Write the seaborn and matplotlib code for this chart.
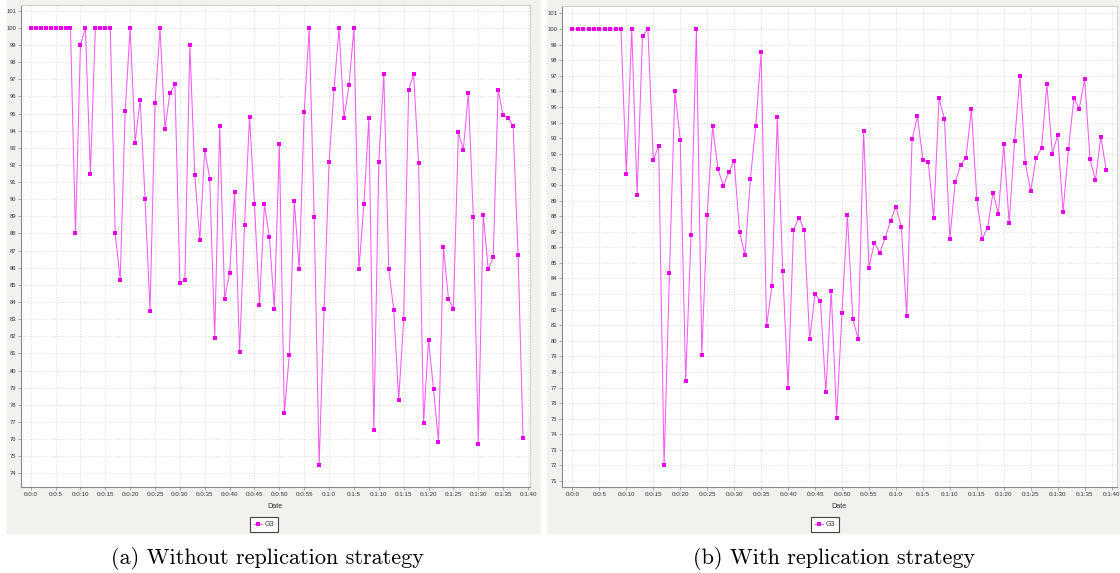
import matplotlib
matplotlib.use("Agg")
import pandas as pd
import seaborn as sns
import matplotlib.pyplot as plt
from matplotlib.patches import Rectangle
from matplotlib.ticker import FuncFormatter, MultipleLocator

W, H = 1120, 573

# one sample per second, 0:0:0 .. 0:1:39
seconds = list(range(100))

without_replication = [
    100, 100, 100, 100, 100, 100, 100, 100, 100, 88.0,
    99.0, 100, 91.5, 100, 100, 100, 100, 88.0, 85.3, 95.15,
    100, 93.3, 95.8, 90.0, 83.5, 95.6, 100, 94.1, 96.2, 96.7,
    85.1, 85.3, 99.0, 91.4, 87.6, 92.9, 91.2, 81.9, 94.3, 84.2,
    85.7, 90.4, 81.1, 88.5, 94.8, 89.7, 83.8, 89.7, 87.8, 83.6,
    93.25, 77.5, 80.9, 89.9, 85.9, 95.1, 100, 88.95, 74.5, 83.6,
    92.2, 96.45, 100, 94.75, 96.65, 100, 85.9, 89.7, 94.75, 76.5,
    92.2, 97.3, 85.9, 83.55, 78.3, 83.0, 96.4, 97.3, 92.1, 76.95,
    81.8, 78.9, 75.85, 87.2, 84.2, 83.6, 93.9, 92.9, 96.2, 88.95,
    75.7, 89.1, 85.9, 86.6, 96.4, 94.9, 94.75, 94.3, 86.75, 76.05,
]

with_replication = [
    100, 100, 100, 100, 100, 100, 100, 100, 100, 100,
    90.7, 100, 89.35, 99.55, 100, 91.6, 92.5, 72.0, 84.35, 96.0,
    92.9, 77.4, 86.8, 100, 79.1, 88.05, 93.8, 91.0, 89.95, 90.8,
    91.55, 87.0, 85.5, 90.35, 93.8, 98.5, 80.95, 83.5, 94.35, 84.5,
    76.95, 87.1, 87.9, 87.1, 80.1, 83.0, 82.55, 76.7, 83.2, 75.05,
    81.8, 88.05, 81.4, 80.1, 93.45, 84.7, 86.3, 85.65, 86.6, 87.7,
    88.6, 87.3, 81.6, 92.95, 94.4, 91.6, 91.5, 87.85, 95.55, 94.25,
    86.55, 90.2, 91.25, 91.75, 94.85, 89.1, 86.55, 87.25, 89.5, 88.15,
    92.6, 87.55, 92.8, 97.0, 91.4, 89.6, 91.75, 92.35, 96.45, 92.0,
    93.2, 88.25, 92.3, 95.55, 94.9, 96.8, 91.65, 90.3, 93.1, 90.95,
]

series_name = "G3"
caption_a = "(a) Without replication strategy"
caption_b = "(b) With replication strategy"
yticks_a = list(range(74, 102))
yticks_b = list(range(71, 102))


def px_box(x0, y0, x1, y1):
    # pixel box (top-left origin) -> figure fraction [l, b, w, h]
    return [x0 / W, 1 - y1 / H, (x1 - x0) / W, (y1 - y0) / H]


def time_label(v, pos):
    s = int(round(v))
    return f"0:{s // 60}:{s % 60}"


panels = [
    dict(values=without_replication, yticks=yticks_a, caption=caption_a,
         bg=(7, 0, 540, 533), ax=(21, 5, 530, 487),
         xlim=(-1.95, 100.4), ylim=(73.2, 101.34),
         legend_x=264, caption_x=267),
    dict(values=with_replication, yticks=yticks_b, caption=caption_b,
         bg=(547, 0, 1120, 533), ax=(562, 6, 1117, 487),
         xlim=(-1.93, 101.0), ylim=(70.62, 101.48),
         legend_x=825, caption_x=834),
]

fig = plt.figure(figsize=(W / 100, H / 100), dpi=100)

for p in panels:
    x0, y0, x1, y1 = p["bg"]
    fig.patches.append(Rectangle((x0 / W, 1 - y1 / H), (x1 - x0) / W, (y1 - y0) / H,
                                 transform=fig.transFigure, color="#f2f1ee", zorder=-10))

    ax = fig.add_axes(px_box(*p["ax"]))
    df = pd.DataFrame({"Date": seconds, "value": p["values"]})
    sns.lineplot(data=df, x="Date", y="value", ax=ax, color="#f25cf2",
                 linewidth=0.75, marker="s", markersize=3.4, markeredgewidth=0,
                 markerfacecolor="#e800e8", label=series_name)

    ax.set_xlim(*p["xlim"])
    ax.set_ylim(*p["ylim"])
    ax.set_yticks(p["yticks"])
    ax.xaxis.set_major_locator(MultipleLocator(5))
    ax.xaxis.set_major_formatter(FuncFormatter(time_label))
    ax.grid(True, color="#d9d9d9", linewidth=0.5, linestyle=(0, (2, 2)))
    ax.set_axisbelow(True)

    for side in ["left", "bottom"]:
        ax.spines[side].set_color("#8a8a8a")
        ax.spines[side].set_linewidth(0.8)
    for side in ["top", "right"]:
        ax.spines[side].set_color("#d0d0d0")
        ax.spines[side].set_linewidth(0.8)

    ax.tick_params(axis="both", length=2, width=0.5, color="#8a8a8a",
                   labelcolor="#333333", pad=1.5)
    ax.tick_params(axis="x", labelsize=4.5)
    ax.tick_params(axis="y", labelsize=4.2)
    for lab in ax.get_xticklabels() + ax.get_yticklabels():
        lab.set_family("Liberation Sans")

    ax.set_ylabel("")
    ax.set_xlabel("Date", fontsize=5.2, family="Liberation Sans", color="#333333")
    ax.xaxis.label.set_va("center")
    ax.xaxis.set_label_coords(0.5, -(506.7 - p["ax"][3]) / (p["ax"][3] - p["ax"][1]))

    leg = ax.legend(loc="center", bbox_to_anchor=(p["legend_x"] / W, 1 - 524.5 / H),
                    bbox_transform=fig.transFigure, fancybox=False, framealpha=1,
                    edgecolor="#444444", fontsize=5.2, handlelength=1.2,
                    handletextpad=0.3, borderpad=0.5, borderaxespad=0)
    leg.get_frame().set_linewidth(0.8)
    for t in leg.get_texts():
        t.set_family("Liberation Sans")
        t.set_color("#333333")

    fig.text(p["caption_x"] / W, 1 - 558 / H, p["caption"], family="cmr10",
             fontsize=16, ha="center", va="center")

fig.savefig("out.png", dpi=100)
